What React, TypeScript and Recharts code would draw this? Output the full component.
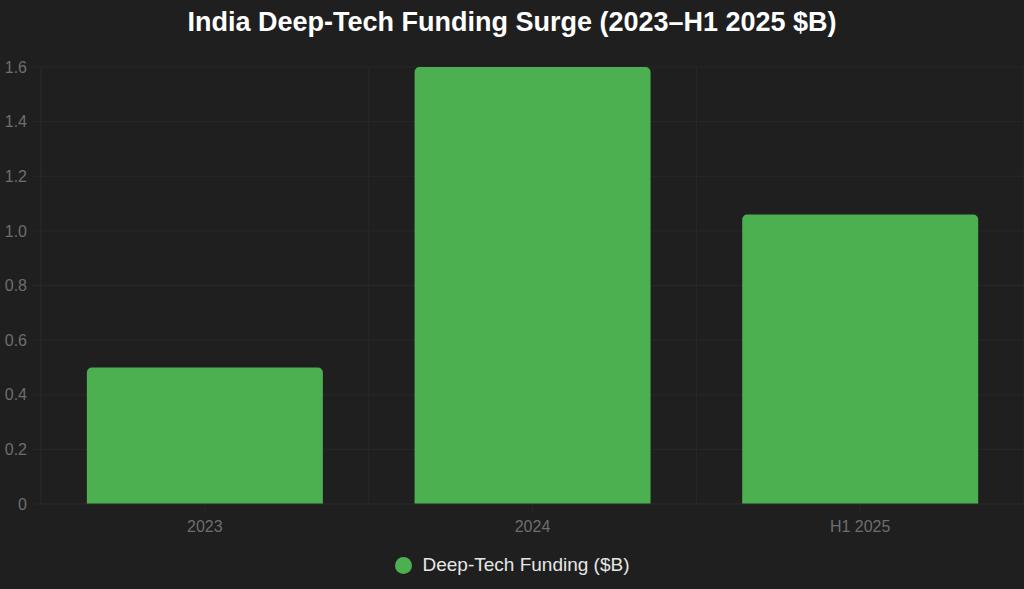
import { BarChart, Bar, XAxis, YAxis, CartesianGrid } from 'recharts';

const periods = ['2023', '2024', 'H1 2025'];
const funding = [0.5, 1.6, 1.06];
const yTicks = [0, 0.2, 0.4, 0.6, 0.8, 1.0, 1.2, 1.4, 1.6];

const data = periods.map((p, i) => ({ period: p, funding: funding[i] }));

const BG = '#1f1f1f';
const GRID = '#282828';
const GREEN = '#4caf50';
const TICK = '#6e6e6e';
const FONT = '"Liberation Sans", Arial, Helvetica, sans-serif';

export default function App() {
  return (
    <div
      style={{
        position: 'fixed',
        left: 0,
        top: 0,
        width: 1024,
        height: 589,
        background: BG,
        fontFamily: FONT,
      }}
    >
      <div
        style={{
          position: 'absolute',
          top: 5,
          width: '100%',
          textAlign: 'center',
          color: '#ffffff',
          fontWeight: 'bold',
          fontSize: 27,
          lineHeight: '34px',
        }}
      >
        India Deep-Tech Funding Surge (2023–H1 2025 $B)
      </div>
      <BarChart
        width={1024}
        height={589}
        data={data}
        margin={{ top: 67, right: 0, left: 0, bottom: 55 }}
        barCategoryGap="14%"
      >
        <CartesianGrid
          stroke={GRID}
          verticalCoordinatesGenerator={({ offset }: any) => {
            const w = offset.width / periods.length;
            return periods.map((_, i) => offset.left + i * w).concat(offset.left + offset.width);
          }}
        />
        <XAxis
          dataKey="period"
          height={30}
          axisLine={{ stroke: GRID }}
          tickLine={{ stroke: GRID }}
          tickSize={8}
          tickMargin={9}
          tick={{ fill: TICK, fontSize: 16, fontFamily: FONT }}
        />
        <YAxis
          width={41}
          domain={[0, 1.6]}
          ticks={yTicks}
          interval={0}
          tickFormatter={(v: number) => (v === 0 ? '0' : v.toFixed(1))}
          axisLine={{ stroke: GRID }}
          tickLine={{ stroke: GRID }}
          tickSize={8}
          tickMargin={6}
          tick={{ fill: TICK, fontSize: 16, fontFamily: FONT }}
        />
        <Bar dataKey="funding" fill={GREEN} radius={[5, 5, 0, 0]} isAnimationActive={false} />
      </BarChart>
      <div
        style={{
          position: 'absolute',
          top: 554,
          width: '100%',
          display: 'flex',
          justifyContent: 'center',
          alignItems: 'center',
          color: '#e6e6e6',
          fontSize: 19,
          lineHeight: '22px',
        }}
      >
        <span
          style={{
            display: 'inline-block',
            width: 17,
            height: 17,
            borderRadius: 9,
            background: GREEN,
            marginRight: 11,
          }}
        />
        Deep-Tech Funding ($B)
      </div>
    </div>
  );
}
